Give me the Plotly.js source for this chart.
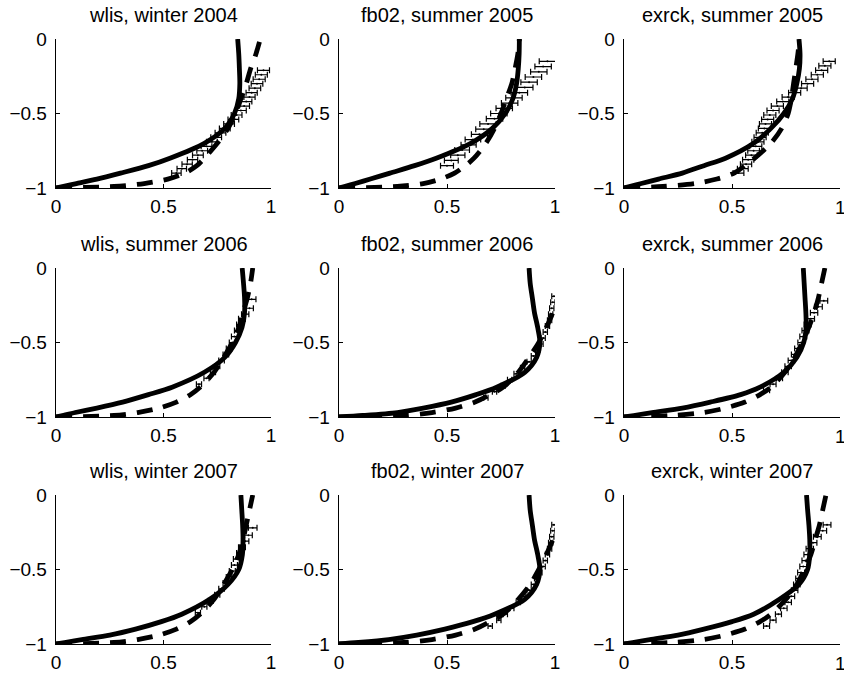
<!DOCTYPE html>
<html>
<head>
<meta charset="utf-8">
<script src="https://cdn.plot.ly/plotly-3.0.1.min.js"></script>
<style>html,body{margin:0;padding:0;background:#fff;overflow:hidden;width:844px;height:674px;}#chart{width:852px;height:674px;}</style>
</head>
<body>
<div id="chart"></div>
<script>
// ---- data ----
const TITLES = ["wlis, winter 2004", "fb02, summer 2005", "exrck, summer 2005",
                "wlis, summer 2006", "fb02, summer 2006", "exrck, summer 2006",
                "wlis, winter 2007", "fb02, winter 2007", "exrck, winter 2007"];
const X_TICKS = [0, 0.5, 1];
const X_TICK_TEXT = ["0", "0.5", "1"];
const Y_TICKS = [-1, -0.5, 0];
const Y_TICK_TEXT = ["\u22121", "\u22120.5", "0"];

// depth levels for the model curves
const Y = [-1, -0.99, -0.97, -0.94, -0.9, -0.85, -0.8, -0.7, -0.6, -0.5, -0.4, -0.3, -0.2, -0.1, 0];

// solid model curves
const S1 = [0, 0.03, 0.095, 0.19, 0.3, 0.43, 0.53, 0.69, 0.785, 0.83, 0.85, 0.855, 0.853, 0.85, 0.845];
const S2 = [0, 0.025, 0.075, 0.145, 0.236, 0.35, 0.45, 0.61, 0.71, 0.77, 0.805, 0.822, 0.83, 0.834, 0.835];
const S3 = [0, 0.025, 0.08, 0.16, 0.27, 0.37, 0.47, 0.6, 0.68, 0.74, 0.78, 0.8, 0.812, 0.815, 0.81];
const S4 = [0, 0.03, 0.09, 0.19, 0.31, 0.43, 0.54, 0.69, 0.785, 0.835, 0.865, 0.877, 0.877, 0.872, 0.866];
const S5 = [0, 0.11, 0.27, 0.39, 0.52, 0.635, 0.73, 0.86, 0.915, 0.93, 0.92, 0.905, 0.895, 0.885, 0.88];
const S6 = [0, 0.045, 0.13, 0.27, 0.4, 0.54, 0.63, 0.74, 0.8, 0.832, 0.843, 0.842, 0.838, 0.834, 0.83];
const S7 = [0, 0.04, 0.12, 0.25, 0.37, 0.49, 0.585, 0.715, 0.8, 0.85, 0.867, 0.87, 0.868, 0.864, 0.86];
const S8 = [0, 0.09, 0.23, 0.36, 0.49, 0.62, 0.72, 0.86, 0.915, 0.93, 0.92, 0.905, 0.895, 0.885, 0.88];
const S9 = [0, 0.04, 0.12, 0.25, 0.37, 0.5, 0.6, 0.72, 0.81, 0.85, 0.86, 0.86, 0.856, 0.85, 0.845];

// dashed model curves
const D1 = [0, 0.27, 0.41, 0.52, 0.6, 0.655, 0.69, 0.75, 0.8, 0.835, 0.86, 0.885, 0.905, 0.93, 0.95];
const D2 = [0, 0.27, 0.39, 0.47, 0.535, 0.585, 0.625, 0.68, 0.72, 0.75, 0.775, 0.8, 0.815, 0.828, 0.835];
const D3 = [0, 0.18, 0.33, 0.43, 0.51, 0.56, 0.605, 0.68, 0.73, 0.76, 0.775, 0.785, 0.795, 0.805, 0.812];
const D4 = [0, 0.27, 0.38, 0.48, 0.56, 0.625, 0.67, 0.735, 0.78, 0.82, 0.85, 0.87, 0.89, 0.905, 0.915];
const D5 = [0, 0.3, 0.43, 0.54, 0.63, 0.7, 0.76, 0.83, 0.88, 0.925, 0.96, 0.99, 1.02, 1.04, 1.06];
const D6 = [0, 0.22, 0.37, 0.47, 0.56, 0.63, 0.68, 0.745, 0.79, 0.825, 0.855, 0.88, 0.9, 0.915, 0.93];
const D7 = [0, 0.27, 0.38, 0.48, 0.56, 0.625, 0.67, 0.735, 0.78, 0.82, 0.85, 0.87, 0.885, 0.9, 0.915];
const D8 = [0, 0.3, 0.43, 0.54, 0.63, 0.7, 0.76, 0.83, 0.885, 0.925, 0.96, 0.99, 1.02, 1.04, 1.06];
const D9 = [0, 0.22, 0.37, 0.47, 0.56, 0.63, 0.68, 0.75, 0.8, 0.835, 0.865, 0.885, 0.905, 0.92, 0.935];

// observations with horizontal error bars
const EY1 = [-0.9,-0.87,-0.84,-0.81,-0.78,-0.75,-0.72,-0.69,-0.66,-0.63,-0.6,-0.57,-0.54,-0.51,-0.48,-0.45,-0.42,-0.39,-0.36,-0.33,-0.3,-0.27,-0.24,-0.21];
const EX1 = [0.56,0.585,0.61,0.635,0.66,0.68,0.7,0.725,0.745,0.765,0.785,0.805,0.825,0.84,0.86,0.875,0.885,0.9,0.91,0.925,0.935,0.945,0.955,0.965];
const EW1 = [0.022,0.022,0.024,0.024,0.025,0.025,0.025,0.025,0.025,0.025,0.025,0.025,0.025,0.025,0.025,0.025,0.026,0.026,0.026,0.027,0.027,0.028,0.028,0.028];

const EY2 = [-0.85,-0.815,-0.78,-0.745,-0.71,-0.675,-0.64,-0.605,-0.57,-0.535,-0.5,-0.465,-0.43,-0.395,-0.36,-0.325,-0.29,-0.255,-0.22,-0.185,-0.15];
const EX2 = [0.5,0.52,0.55,0.57,0.6,0.62,0.65,0.67,0.69,0.72,0.74,0.765,0.79,0.81,0.835,0.86,0.88,0.9,0.925,0.945,0.965];
const EW2 = [0.03,0.032,0.033,0.034,0.035,0.036,0.037,0.037,0.038,0.038,0.038,0.038,0.038,0.038,0.038,0.038,0.038,0.038,0.038,0.038,0.038];

const EY3 = [-0.9,-0.87,-0.84,-0.81,-0.78,-0.75,-0.72,-0.69,-0.66,-0.63,-0.6,-0.57,-0.54,-0.51,-0.48,-0.45,-0.42,-0.39,-0.36,-0.33,-0.3,-0.27,-0.24,-0.21,-0.18,-0.15];
const EX3 = [0.53,0.55,0.565,0.575,0.59,0.6,0.61,0.62,0.63,0.64,0.65,0.655,0.665,0.675,0.69,0.71,0.735,0.76,0.79,0.82,0.85,0.87,0.895,0.915,0.93,0.95];
const EW3 = [0.025,0.025,0.026,0.026,0.027,0.027,0.028,0.028,0.028,0.028,0.028,0.028,0.028,0.028,0.028,0.028,0.028,0.028,0.028,0.028,0.028,0.028,0.028,0.028,0.028,0.028];

const EY4 = [-0.78,-0.74,-0.7,-0.66,-0.62,-0.58,-0.54,-0.5,-0.46,-0.42,-0.38,-0.34,-0.31,-0.27,-0.21];
const EX4 = [0.665,0.7,0.73,0.75,0.77,0.79,0.805,0.82,0.83,0.845,0.855,0.865,0.88,0.9,0.91];
const EW4 = [0.012,0.012,0.012,0.012,0.013,0.013,0.013,0.014,0.014,0.015,0.015,0.016,0.017,0.018,0.02];

const EY5 = [-0.87,-0.83,-0.79,-0.75,-0.71,-0.67,-0.63,-0.59,-0.55,-0.51,-0.47,-0.43,-0.39,-0.35,-0.31,-0.27,-0.23,-0.19];
const EX5 = [0.68,0.72,0.76,0.79,0.82,0.85,0.88,0.9,0.92,0.935,0.945,0.955,0.965,0.975,0.98,0.985,0.99,0.995];
const EW5 = [0.01,0.01,0.01,0.01,0.01,0.01,0.01,0.01,0.01,0.01,0.01,0.01,0.01,0.01,0.01,0.01,0.01,0.01];

const EY6 = [-0.82,-0.78,-0.74,-0.7,-0.66,-0.62,-0.58,-0.54,-0.5,-0.46,-0.42,-0.38,-0.34,-0.3,-0.26,-0.22];
const EX6 = [0.66,0.69,0.72,0.745,0.76,0.775,0.79,0.805,0.82,0.83,0.84,0.85,0.865,0.88,0.9,0.925];
const EW6 = [0.014,0.014,0.014,0.015,0.015,0.015,0.015,0.015,0.015,0.016,0.016,0.016,0.017,0.017,0.018,0.018];

const EY7 = [-0.79,-0.75,-0.71,-0.67,-0.63,-0.59,-0.55,-0.51,-0.47,-0.43,-0.39,-0.35,-0.31,-0.27,-0.22];
const EX7 = [0.66,0.69,0.72,0.75,0.77,0.79,0.805,0.82,0.83,0.84,0.855,0.865,0.88,0.895,0.915];
const EW7 = [0.012,0.012,0.012,0.012,0.013,0.013,0.013,0.014,0.014,0.015,0.015,0.016,0.017,0.018,0.02];

const EY8 = [-0.88,-0.84,-0.8,-0.76,-0.72,-0.68,-0.64,-0.6,-0.56,-0.52,-0.48,-0.44,-0.4,-0.36,-0.32,-0.28,-0.24,-0.2];
const EX8 = [0.7,0.74,0.77,0.8,0.83,0.855,0.88,0.9,0.915,0.93,0.945,0.955,0.965,0.975,0.98,0.985,0.99,0.995];
const EW8 = [0.01,0.01,0.01,0.01,0.01,0.01,0.01,0.01,0.01,0.01,0.01,0.01,0.01,0.01,0.01,0.01,0.01,0.01];

const EY9 = [-0.88,-0.84,-0.8,-0.76,-0.72,-0.68,-0.64,-0.6,-0.56,-0.52,-0.48,-0.44,-0.4,-0.36,-0.32,-0.28,-0.24,-0.2];
const EX9 = [0.66,0.69,0.715,0.74,0.76,0.775,0.79,0.8,0.81,0.82,0.83,0.84,0.85,0.86,0.875,0.895,0.92,0.94];
const EW9 = [0.014,0.014,0.014,0.015,0.015,0.015,0.015,0.015,0.015,0.016,0.016,0.016,0.017,0.017,0.018,0.018,0.018,0.018];

const SOLID = [S1, S2, S3, S4, S5, S6, S7, S8, S9];
const DASHED = [D1, D2, D3, D4, D5, D6, D7, D8, D9];
const ERR_Y = [EY1, EY2, EY3, EY4, EY5, EY6, EY7, EY8, EY9];
const ERR_X = [EX1, EX2, EX3, EX4, EX5, EX6, EX7, EX8, EX9];
const ERR_W = [EW1, EW2, EW3, EW4, EW5, EW6, EW7, EW8, EW9];

// ---- layout geometry (pixels) ----
const W = 852, H = 674;
const COLS = [[56, 271], [339, 555], [624, 840]];
const ROWS = [[39, 188], [268, 417], [495, 644]];
const FONT = "Liberation Sans, Arial, Helvetica, sans-serif";

const traces = [];
const layout = {
  width: W, height: H,
  margin: {l: 0, r: 0, t: 0, b: 0},
  paper_bgcolor: "#fff", plot_bgcolor: "#fff",
  showlegend: false,
  font: {family: FONT, size: 19, color: "#000"},
  annotations: []
};

for (let i = 0; i < 9; i++) {
  const r = Math.floor(i / 3), c = i % 3;
  const suf = i === 0 ? "" : String(i + 1);
  const xa = "x" + suf, ya = "y" + suf;
  const xd = [COLS[c][0] / W, COLS[c][1] / W];
  const yd = [1 - ROWS[r][1] / H, 1 - ROWS[r][0] / H];
  const lastCol = (c === 2);
  // in the right-hand column the label of the last x tick sits at the page edge and is
  // written as an annotation (Plotly drops it there); the tick mark itself stays on the axis
  const xText = lastCol ? X_TICK_TEXT.map((t, k) => k === X_TICK_TEXT.length - 1 ? "" : t) : X_TICK_TEXT;

  layout["xaxis" + suf] = {
    domain: xd, anchor: ya, range: [0, 1], fixedrange: true,
    showgrid: false, zeroline: false, showline: true, linecolor: "#000", linewidth: 1.3,
    ticks: "inside", ticklen: 4, tickwidth: 1, tickcolor: "#000",
    tickvals: X_TICKS, ticktext: xText, ticklabelstandoff: 1,
    tickfont: {family: FONT, size: 19, color: "#000"}
  };
  layout["yaxis" + suf] = {
    domain: yd, anchor: xa, range: [-1, 0], fixedrange: true,
    showgrid: false, zeroline: false, showline: true, linecolor: "#000", linewidth: 1.3,
    ticks: "inside", ticklen: 4, tickwidth: 1, tickcolor: "#000",
    tickvals: Y_TICKS, ticktext: Y_TICK_TEXT, ticklabelstandoff: 4,
    tickfont: {family: FONT, size: 19, color: "#000"}
  };

  traces.push({
    type: "scatter", mode: "markers", x: ERR_X[i], y: ERR_Y[i], xaxis: xa, yaxis: ya,
    marker: {size: 2, color: "#000"},
    error_x: {type: "data", array: ERR_W[i], visible: true, color: "#000", thickness: 1.2, width: 3},
    hoverinfo: "skip"
  });
  traces.push({
    type: "scatter", mode: "lines", x: DASHED[i], y: Y, xaxis: xa, yaxis: ya,
    line: {color: "#000", width: 4.8, dash: "16px,11px", shape: "spline", smoothing: 0.8},
    hoverinfo: "skip"
  });
  traces.push({
    type: "scatter", mode: "lines", x: SOLID[i], y: Y, xaxis: xa, yaxis: ya,
    line: {color: "#000", width: 4.8, shape: "spline", smoothing: 0.8},
    hoverinfo: "skip"
  });

  layout.annotations.push({
    text: TITLES[i], xref: "paper", yref: "paper",
    x: (xd[0] + xd[1]) / 2, y: yd[1], xanchor: "center", yanchor: "bottom",
    yshift: 11, showarrow: false,
    font: {family: FONT, size: 20, color: "#000"}
  });

  if (lastCol) {
    layout.annotations.push({
      text: X_TICK_TEXT[X_TICK_TEXT.length - 1], xref: xa, yref: "paper",
      x: X_TICKS[X_TICKS.length - 1], y: yd[0], xanchor: "center", yanchor: "top",
      yshift: -7, showarrow: false,
      font: {family: FONT, size: 19, color: "#000"}
    });
  }
}

Plotly.newPlot("chart", traces, layout, {staticPlot: true, displayModeBar: false});
</script>
</body>
</html>
